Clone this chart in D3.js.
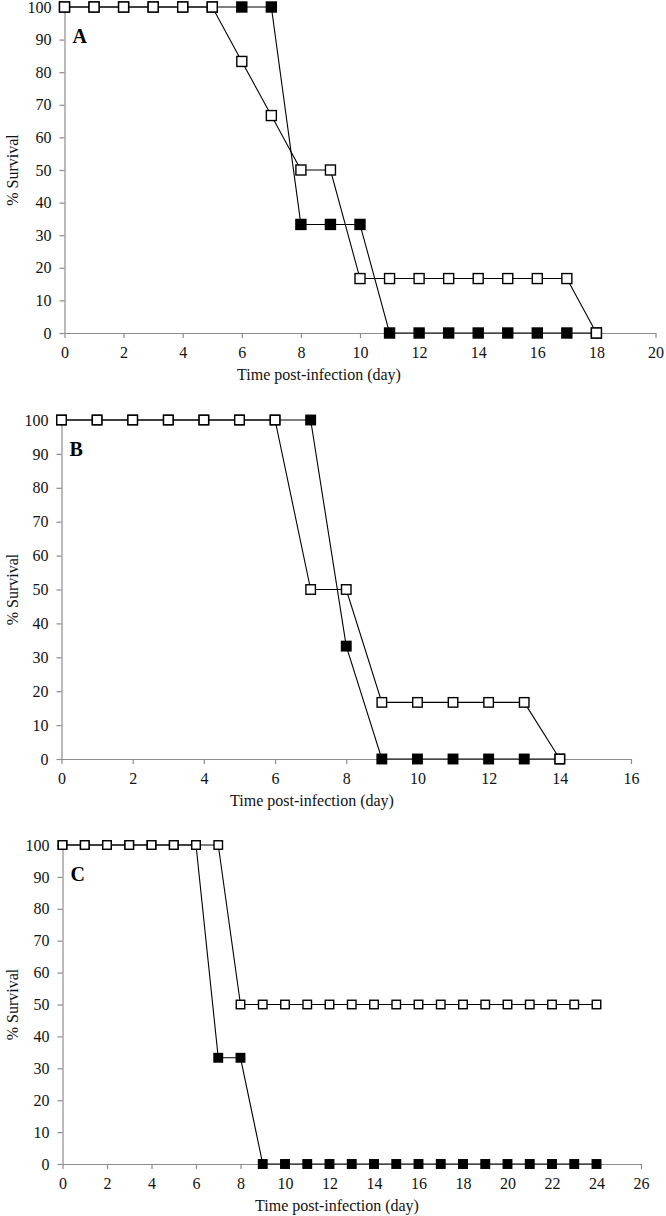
<!DOCTYPE html>
<html>
<head>
<meta charset="utf-8">
<script src="https://cdn.jsdelivr.net/npm/d3@7"></script>
<style>
  body { margin: 0; background: #fff; }
  text { font-family: "Liberation Serif", "Times New Roman", serif; }
</style>
</head>
<body>
<div id="chart"></div>
<script>
// survival data
const daysA = [0, 1, 2, 3, 4, 5, 6, 7, 8, 9, 10, 11, 12, 13, 14, 15, 16, 17, 18];
const openA = [100, 100, 100, 100, 100, 100, 83.3, 66.7, 50, 50, 16.7, 16.7, 16.7, 16.7, 16.7, 16.7, 16.7, 16.7, 0];
const filledA = [100, 100, 100, 100, 100, 100, 100, 100, 33.3, 33.3, 33.3, 0, 0, 0, 0, 0, 0, 0, 0];

const daysB = [0, 1, 2, 3, 4, 5, 6, 7, 8, 9, 10, 11, 12, 13, 14];
const openB = [100, 100, 100, 100, 100, 100, 100, 50, 50, 16.7, 16.7, 16.7, 16.7, 16.7, 0];
const filledB = [100, 100, 100, 100, 100, 100, 100, 100, 33.3, 0, 0, 0, 0, 0, 0];

const daysC = [0, 1, 2, 3, 4, 5, 6, 7, 8, 9, 10, 11, 12, 13, 14, 15, 16, 17, 18, 19, 20, 21, 22, 23, 24];
const openC = [100, 100, 100, 100, 100, 100, 100, 100, 50, 50, 50, 50, 50, 50, 50, 50, 50, 50, 50, 50, 50, 50, 50, 50, 50];
const filledC = [100, 100, 100, 100, 100, 100, 100, 33.3, 33.3, 0, 0, 0, 0, 0, 0, 0, 0, 0, 0, 0, 0, 0, 0, 0, 0];

const yTicks = [0, 10, 20, 30, 40, 50, 60, 70, 80, 90, 100];
const xTicksA = [0, 2, 4, 6, 8, 10, 12, 14, 16, 18, 20];
const xTicksB = [0, 2, 4, 6, 8, 10, 12, 14, 16];
const xTicksC = [0, 2, 4, 6, 8, 10, 12, 14, 16, 18, 20, 22, 24, 26];

const yTitle = "% Survival";
const xTitle = "Time post-infection (day)";

// layout of the three panels
const panels = [
  { letter: "A", days: daysA, open: openA, filled: filledA, ticks: xTicksA,
    left: 64.5, right: 655.5, top: 7, bottom: 333, marker: 10, titleX: 319 },
  { letter: "B", days: daysB, open: openB, filled: filledB, ticks: xTicksB,
    left: 61.5, right: 631, top: 420, bottom: 759, marker: 9.5, titleX: 312 },
  { letter: "C", days: daysC, open: openC, filled: filledC, ticks: xTicksC,
    left: 62.5, right: 641, top: 845, bottom: 1164, marker: 8.5, titleX: 337 }
];

const svg = d3.select("#chart")
  .append("svg")
  .attr("width", 666)
  .attr("height", 1216);

const axisColor = "#8c8c8c";

panels.forEach(p => {
  const g = svg.append("g");

  const x = d3.scaleLinear()
    .domain([0, d3.max(p.ticks)])
    .range([p.left, p.right]);

  const y = d3.scaleLinear()
    .domain([0, 100])
    .range([p.bottom, p.top]);

  // axes
  const yAxis = g.append("g")
    .attr("transform", "translate(" + p.left + ",0)")
    .call(d3.axisLeft(y).tickValues(yTicks).tickSize(5).tickSizeOuter(0).tickPadding(8));

  const xAxis = g.append("g")
    .attr("transform", "translate(0," + p.bottom + ")")
    .call(d3.axisBottom(x).tickValues(p.ticks).tickSize(5).tickSizeOuter(0).tickPadding(9));

  [yAxis, xAxis].forEach(a => {
    a.select(".domain").attr("stroke", axisColor).attr("stroke-width", 1.2);
    a.selectAll(".tick line").attr("stroke", axisColor).attr("stroke-width", 1.2);
    a.selectAll(".tick text")
      .attr("fill", "#111")
      .style("font-family", "'Liberation Serif', serif")
      .style("font-size", "16px");
  });

  // axis titles
  g.append("text")
    .attr("x", p.titleX)
    .attr("y", p.bottom + 47)
    .attr("text-anchor", "middle")
    .attr("fill", "#111")
    .style("font-size", "16px")
    .text(xTitle);

  g.append("text")
    .attr("transform", "translate(18," + (p.top + p.bottom) / 2 + ") rotate(-90)")
    .attr("text-anchor", "middle")
    .attr("fill", "#111")
    .style("font-size", "16px")
    .text(yTitle);

  // panel letter
  g.append("text")
    .attr("x", p.left + 8)
    .attr("y", p.top + 36)
    .attr("fill", "#000")
    .style("font-size", "20px")
    .style("font-weight", "bold")
    .text(p.letter);

  const line = d3.line()
    .x(d => x(d.day))
    .y(d => y(d.v));

  const series = [
    { values: p.filled, fill: "#000" },
    { values: p.open, fill: "#fff" }
  ];

  series.forEach(s => {
    const pts = p.days.map((d, i) => ({ day: d, v: s.values[i] }));

    g.append("path")
      .datum(pts)
      .attr("fill", "none")
      .attr("stroke", "#000")
      .attr("stroke-width", 1.1)
      .attr("d", line);

    g.selectAll(null)
      .data(pts)
      .enter()
      .append("rect")
      .attr("x", d => x(d.day) - p.marker / 2)
      .attr("y", d => y(d.v) - p.marker / 2)
      .attr("width", p.marker)
      .attr("height", p.marker)
      .attr("fill", s.fill)
      .attr("stroke", "#000")
      .attr("stroke-width", 1.4);
  });
});
</script>
</body>
</html>
